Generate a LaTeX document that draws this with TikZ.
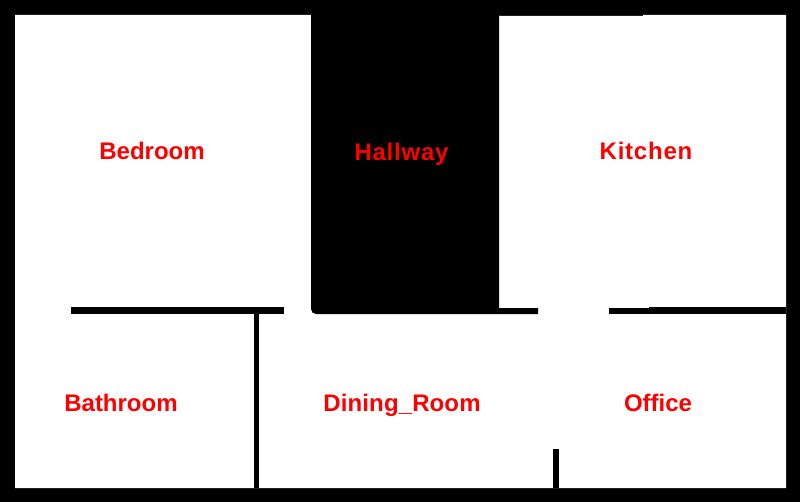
\documentclass[tikz,border=0pt]{standalone}
\usepackage{fontspec}
\setmainfont{Liberation Sans}
\tikzstyle{wall} = [fill=black, draw=none]
\tikzstyle{floorarea} = [fill=white, draw=none]
\tikzstyle{roomname} = [anchor=base, inner sep=0pt, text=red, font=\fontsize{24bp}{28bp}\selectfont\bfseries]
\tikzstyle{widename} = [roomname, font=\fontsize{24bp}{28bp}\selectfont\bfseries\addfontfeature{LetterSpace=3.2}]

\begin{document}
\begin{tikzpicture}[x=1bp, y=-1bp]

  \useasboundingbox (0,0) rectangle (800,502);
  \fill [wall] (0,0) rectangle (800,502);

  % open floor, kitchen top is one pixel lower up to x=643
  \fill [floorarea] (15,15) -- (499,15) -- (499,16) -- (643,16) -- (643,15) -- (786,15) -- (786,488) -- (15,488) -- cycle;

  % hallway and the wall running on to the door
  \fill [wall] (311,0) -- (311,306) [rounded corners=5bp] -- (311,314) [sharp corners] -- (538,314) -- (538,308) -- (499,308) -- (499,0) -- cycle;

  % inner walls
  \fill [wall] (71,307) rectangle (284,314);
  \fill [wall] (254,314) rectangle (259,488);
  \fill [wall] (609,308) rectangle (649,314);
  \fill [wall] (649,307) rectangle (786,314);
  \fill [wall] (553,449) rectangle (559,488);

  \node (bedroom) [roomname] at (152,160) {Bedroom};
  \node (hallway) [widename] at (401.5,161) {Hallway};
  \node (kitchen) [widename] at (646,160) {Kitchen};
  \node (bathroom) [roomname] at (121,411) {Bathroom};
  \node (dining) [roomname, font=\fontsize{24bp}{28bp}\selectfont\bfseries\addfontfeature{LetterSpace=0.5}] at (402,411) {Dining\_Room};
  \node (office) [roomname] at (658,411.5) {Office};

\end{tikzpicture}
\end{document}
